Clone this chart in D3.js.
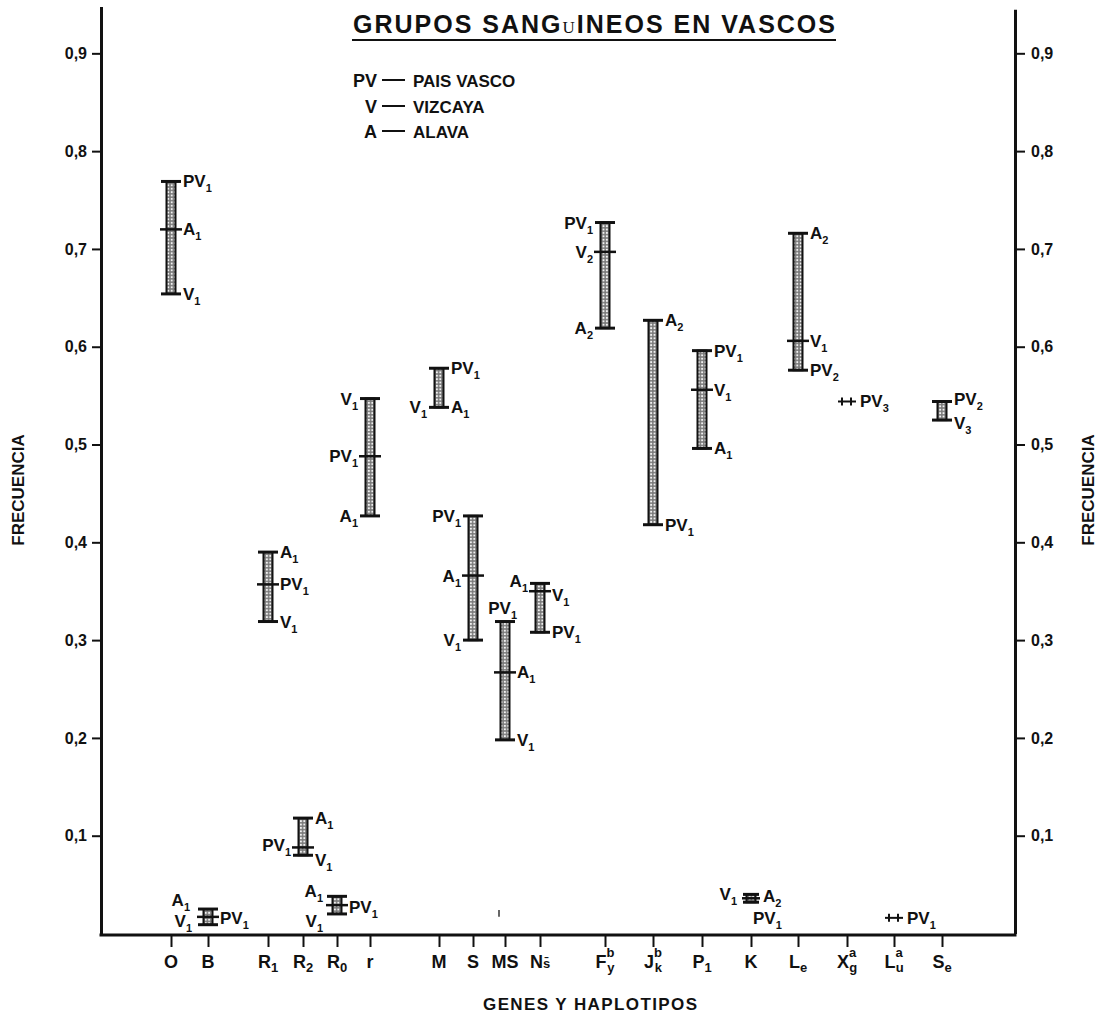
<!DOCTYPE html>
<html>
<head>
<meta charset="utf-8">
<script src="https://cdn.jsdelivr.net/npm/d3@7"></script>
<style>
  body { margin: 0; background: #fff; }
  text { font-family: "Liberation Sans", Arial, sans-serif; font-weight: bold; fill: #111; }
</style>
</head>
<body>
<script>
// genes / haplotypes along the x axis
var genes    = ["O", "B", "R1", "R2", "R0", "r", "M", "S", "MS", "Ns", "Fy", "Jk", "P1", "K", "Le", "Xg", "Lu", "Se"];
var tickMain = ["O", "B", "R", "R", "R", "r", "M", "S", "MS", "N", "F", "J", "P", "K", "L", "X", "L", "S"];
var tickSub  = ["", "", "1", "2", "0", "", "", "", "", "s\u0304", "y", "k", "1", "", "e", "g", "u", "e"];
var tickSup  = ["", "", "", "", "", "", "", "", "", "", "b", "b", "", "", "", "a", "a", ""];

// frequency ranges (top, middle, bottom of each bar)
var barHi  = [0.769, 0.025, 0.390, 0.118, 0.038, 0.547, 0.578, 0.427, 0.319, 0.358, 0.727, 0.627, 0.596, 0.040, 0.716, null, null, 0.544];
var barMid = [0.720, 0.017, 0.357, 0.088, 0.029, 0.488, null, 0.366, 0.267, 0.350, 0.697, null, 0.556, 0.036, 0.606, null, null, null];
var barLo  = [0.654, 0.009, 0.319, 0.080, 0.020, 0.427, 0.538, 0.300, 0.198, 0.308, 0.619, 0.418, 0.496, 0.032, 0.576, null, null, 0.525];
// single values drawn as "++"
var pointVal = [null, null, null, null, null, null, null, null, null, null, null, null, null, null, null, 0.544, 0.016, null];

// labels on the bars
var labelGene  = ["O","O","O", "B","B","B", "R1","R1","R1", "R2","R2","R2", "R0","R0","R0", "r","r","r", "M","M","M", "S","S","S", "MS","MS","MS", "Ns","Ns","Ns", "Fy","Fy","Fy", "Jk","Jk", "P1","P1","P1", "K","K","K", "Le","Le","Le", "Xg", "Lu", "Se","Se"];
var labelLevel = ["hi","mid","lo", "hi","lo","mid", "hi","mid","lo", "hi","mid","lo", "hi","lo","mid", "hi","mid","lo", "hi","lo","lo", "hi","mid","lo", "hi","mid","lo", "hi","mid","lo", "hi","mid","lo", "hi","lo", "hi","mid","lo", "hi","hi","lo", "hi","mid","lo", "pt", "pt", "hi","lo"];
var labelSide  = ["R","R","R", "L","L","R", "R","R","R", "R","L","R", "L","L","R", "L","L","L", "R","L","R", "L","L","L", "L","R","R", "L","R","R", "L","L","L", "R","R", "R","R","R", "L","R","R", "R","R","R", "R", "R", "R","R"];
var labelName  = ["PV","A","V", "A","V","PV", "A","PV","V", "A","PV","V", "A","V","PV", "V","PV","A", "PV","V","A", "PV","A","V", "PV","A","V", "A","V","PV", "PV","V","A", "A","PV", "PV","V","A", "V","A","PV", "A","V","PV", "PV", "PV", "PV","V"];
var labelSub   = ["1","1","1", "1","1","1", "1","1","1", "1","1","1", "1","1","1", "1","1","1", "1","1","1", "1","1","1", "1","1","1", "1","1","1", "1","2","2", "2","1", "1","1","1", "1","2","1", "2","1","2", "3", "1", "2","3"];

var legendKeys  = ["PV", "V", "A"];
var legendNames = ["PAIS  VASCO", "VIZCAYA", "ALAVA"];
var yTicks = [0.1, 0.2, 0.3, 0.4, 0.5, 0.6, 0.7, 0.8, 0.9];

var W = 1101, H = 1019;
var left = 101, right = 1015, base = 935;

var svg = d3.select("body").append("svg").attr("width", W).attr("height", H);

// stipple fill for the bars
var pat = svg.append("defs").append("pattern")
    .attr("id", "dots").attr("width", 3.4).attr("height", 3.4)
    .attr("patternUnits", "userSpaceOnUse");
pat.append("rect").attr("width", 3.4).attr("height", 3.4).attr("fill", "#7a7a7a");
pat.append("circle").attr("cx", 1.7).attr("cy", 1.7).attr("r", 1.05).attr("fill", "#f2f2f2");

var y = d3.scaleLinear().domain([0, 0.948]).range([933.5, 6.4]);
var x = d3.scaleOrdinal().domain(genes)
    .range([171, 208, 268, 303, 337, 370, 439, 473, 505, 540, 605, 653, 702, 751, 798, 847, 894, 942]);

var fmt = function (d) { return d3.format(".1f")(d).replace(".", ","); };

// left axis
var gL = svg.append("g").attr("transform", "translate(" + left + ",0)")
    .call(d3.axisLeft(y).tickValues(yTicks).tickFormat(fmt).tickSize(9).tickPadding(5).tickSizeOuter(0));
// right axis
var gR = svg.append("g").attr("transform", "translate(" + right + ",0)")
    .call(d3.axisRight(y.copy().domain([0, 0.945]).range([933.5, 9.3])).tickValues(yTicks).tickFormat(fmt).tickSize(10).tickPadding(6).tickSizeOuter(0));
[gL, gR].forEach(function (g) {
    g.select(".domain").attr("stroke-width", 3).attr("stroke", "#111");
    g.selectAll(".tick line").attr("stroke-width", 2).attr("stroke", "#111");
    g.selectAll(".tick text").style("font-size", "16px").attr("fill", "#111");
});

// bottom axis
var gB = svg.append("g").attr("transform", "translate(0," + base + ")")
    .call(d3.axisBottom(x).tickSize(12).tickFormat(""));
gB.select(".domain").remove();
gB.selectAll(".tick line").attr("stroke-width", 2).attr("stroke", "#111");
svg.append("line").attr("x1", left - 1.5).attr("x2", right + 1.5).attr("y1", base).attr("y2", base)
    .attr("stroke", "#111").attr("stroke-width", 3);

// gene names with sub / superscripts
genes.forEach(function (g, i) {
    var t = svg.append("text").attr("x", x(g)).attr("y", 968)
        .attr("text-anchor", "middle").style("font-size", "18px");
    t.append("tspan").text(tickMain[i]);
    if (tickSup[i]) {
        t.append("tspan").style("font-size", "13px").attr("dy", -11).text(tickSup[i]);
        t.append("tspan").style("font-size", "13px").attr("dx", -7).attr("dy", 15).text(tickSub[i]);
    } else if (tickSub[i]) {
        t.append("tspan").style("font-size", "13px").attr("dy", g === "Ns" ? 0 : 4).text(tickSub[i]);
    }
});

// bars
genes.forEach(function (g, i) {
    var cx = x(g);
    if (barHi[i] == null) return;
    var small = y(barLo[i]) - y(barHi[i]) < 12;
    var capW = small ? 8 : 10;
    svg.append("rect")
        .attr("x", cx - 4.5).attr("width", 9)
        .attr("y", y(barHi[i])).attr("height", y(barLo[i]) - y(barHi[i]))
        .attr("fill", "url(#dots)").attr("stroke", "#111").attr("stroke-width", 2);
    [barHi[i], barLo[i]].forEach(function (v) {
        svg.append("line").attr("x1", cx - capW).attr("x2", cx + capW)
            .attr("y1", y(v)).attr("y2", y(v)).attr("stroke", "#111").attr("stroke-width", 3);
    });
    if (barMid[i] != null) {
        svg.append("line").attr("x1", cx - capW - 1).attr("x2", cx + capW + 1)
            .attr("y1", y(barMid[i])).attr("y2", y(barMid[i])).attr("stroke", "#111").attr("stroke-width", 2.5);
    }
});

// single values "++"
genes.forEach(function (g, i) {
    if (pointVal[i] == null) return;
    var cx = x(g), cy = y(pointVal[i]);
    svg.append("line").attr("x1", cx - 9).attr("x2", cx + 9).attr("y1", cy).attr("y2", cy)
        .attr("stroke", "#111").attr("stroke-width", 2);
    [-5, 4].forEach(function (o) {
        svg.append("line").attr("x1", cx + o).attr("x2", cx + o).attr("y1", cy - 4).attr("y2", cy + 4)
            .attr("stroke", "#111").attr("stroke-width", 2);
    });
});

// small nudges for crowded labels [dx, dy]
var nudge = {
    "B hi L": [-6, -9], "B lo L": [-4, -4], "B mid R": [0, 1],
    "R0 hi L": [-2, -5], "R0 lo L": [-2, 7], "R0 mid R": [0, 2],
    "R2 mid L": [0, -2], "R2 lo R": [0, 5],
    "MS hi L": [24, -14],
    "Ns hi L": [0, -2], "Ns mid R": [0, 4],
    "K hi L": [-2, 0], "K hi R": [0, 2], "K lo R": [-10, 16],
    "Se hi R": [0, -2], "Se lo R": [0, 3]
};

labelGene.forEach(function (g, k) {
    var i = genes.indexOf(g);
    var lv = labelLevel[k];
    var v = lv === "hi" ? barHi[i] : lv === "mid" ? barMid[i] : lv === "lo" ? barLo[i] : pointVal[i];
    var side = labelSide[k];
    var n = nudge[g + " " + lv + " " + side] || [0, 0];
    var off = lv === "pt" ? 13 : 12;
    var t = svg.append("text")
        .attr("x", x(g) + (side === "R" ? off : -off) + n[0])
        .attr("y", y(v) + 6 + n[1])
        .attr("text-anchor", side === "R" ? "start" : "end")
        .style("font-size", "17px");
    t.append("tspan").text(labelName[k]);
    t.append("tspan").style("font-size", "11px").attr("dy", 5).text(labelSub[k]);
});

// stray mark near MS
svg.append("line").attr("x1", x("MS") - 6).attr("x2", x("MS") - 6)
    .attr("y1", y(0.024)).attr("y2", y(0.017)).attr("stroke", "#333").attr("stroke-width", 1.5);

// title
var title = svg.append("text").attr("x", 353).attr("y", 33)
    .attr("textLength", 482).attr("lengthAdjust", "spacing").style("font-size", "25px");
title.append("tspan").text("GRUPOS  SANG");
title.append("tspan").style("font-family", "'Liberation Serif', serif").style("font-weight", "normal")
    .style("font-size", "17px").text("U");
title.append("tspan").text("INEOS  EN  VASCOS");
svg.append("line").attr("x1", 352).attr("x2", 836).attr("y1", 40).attr("y2", 40)
    .attr("stroke", "#111").attr("stroke-width", 2);

// legend
var legY = [80, 106, 131];
legendKeys.forEach(function (k, i) {
    svg.append("text").attr("x", 377).attr("y", legY[i] + 6.5).attr("text-anchor", "end")
        .style("font-size", "18px").text(k);
    svg.append("line").attr("x1", 382).attr("x2", 405).attr("y1", legY[i]).attr("y2", legY[i])
        .attr("stroke", "#111").attr("stroke-width", 2);
    svg.append("text").attr("x", 413).attr("y", legY[i] + 6.5)
        .style("font-size", "17px").text(legendNames[i]);
});

// axis titles
svg.append("text").attr("transform", "translate(24,490) rotate(-90)").attr("text-anchor", "middle")
    .style("font-size", "17px").text("FRECUENCIA");
svg.append("text").attr("transform", "translate(1094,490) rotate(-90)").attr("text-anchor", "middle")
    .style("font-size", "17px").text("FRECUENCIA");
svg.append("text").attr("x", 483).attr("y", 1010).attr("textLength", 214).attr("lengthAdjust", "spacing")
    .style("font-size", "17px").text("GENES  Y  HAPLOTIPOS");
</script>
</body>
</html>
